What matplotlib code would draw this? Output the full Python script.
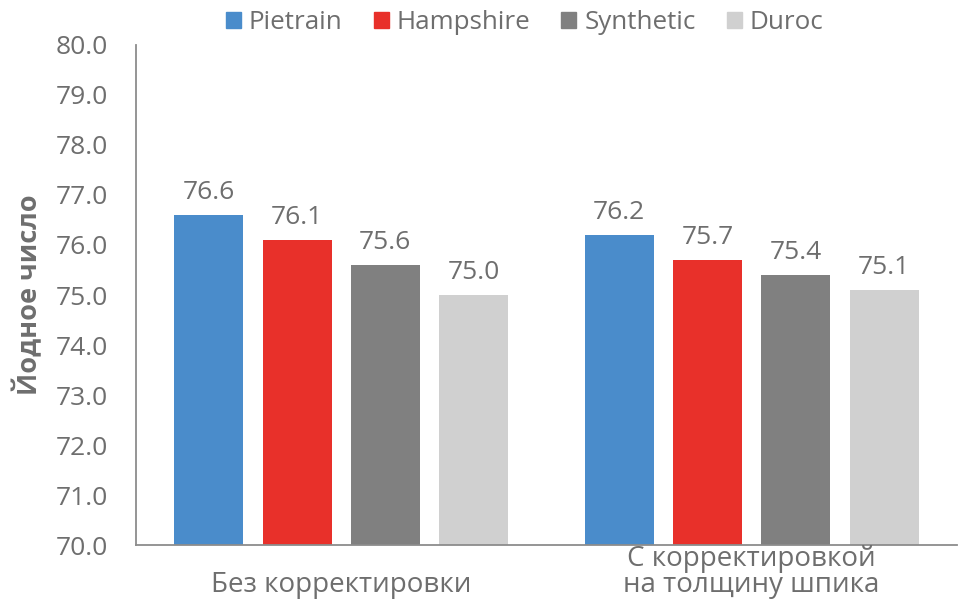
import numpy as np
import matplotlib.pyplot as plt
from matplotlib.patches import Patch

plt.rcParams['font.family'] = ['Open Sans', 'DejaVu Sans']

groups = ['Без корректировки', 'С корректировкой\nна толщину шпика']
breeds = ['Pietrain', 'Hampshire', 'Synthetic', 'Duroc']
values = [[76.6, 76.2],
          [76.1, 75.7],
          [75.6, 75.4],
          [75.0, 75.1]]
colors = ['#4a8ccb', '#e8302a', '#808080', '#d0d0d0']
txt = '#6e6e6e'

fig = plt.figure(figsize=(9.59, 6.08), dpi=100)
ax = fig.add_axes([0.1418, 0.1036, 0.856, 0.8224])

x = np.arange(len(groups))
w = 0.168
step = 0.215
for i, b in enumerate(breeds):
    xs = x + (i - 1.5) * step
    ax.bar(xs, values[i], w, bottom=0, color=colors[i], label=b, zorder=2)
    for xx, v in zip(xs, values[i]):
        ax.annotate('%.1f' % v, (xx, v), xytext=(0, 7), textcoords='offset points',
                    ha='center', va='bottom', fontsize=19, color=txt)

ax.set_ylim(70, 80)
ax.set_xlim(-0.5, 1.5)
ax.set_yticks(np.arange(70, 80.5, 1))
ax.set_yticklabels(['%.1f' % t for t in np.arange(70, 80.5, 1)])
ax.tick_params(axis='y', length=0, pad=20, labelsize=19, labelcolor=txt)
ax.set_xticks([])
for s in ['top', 'right']:
    ax.spines[s].set_visible(False)
for s in ['left', 'bottom']:
    ax.spines[s].set_color('#8c8c8c')
    ax.spines[s].set_linewidth(1.3)

for xx, g in zip(x, groups):
    ax.annotate(g, (xx, 0), xycoords=('data', 'axes fraction'), xytext=(0, -39),
                textcoords='offset points', ha='center', va='bottom',
                fontsize=20, color=txt, linespacing=0.92)

ax.set_ylabel('Йодное число', fontsize=19.5, fontweight='bold', color=txt)
ax.yaxis.set_label_coords(-0.113, 0.5)

handles = [Patch(color=c) for c in colors]
fig.legend(handles, breeds, loc='center', bbox_to_anchor=(0.547, 0.963), ncol=4,
           frameon=False, fontsize=18.7, labelcolor=txt, handlelength=0.58,
           handleheight=0.58, handletextpad=0.3, columnspacing=1.2)

fig.savefig('out.png', dpi=100)
